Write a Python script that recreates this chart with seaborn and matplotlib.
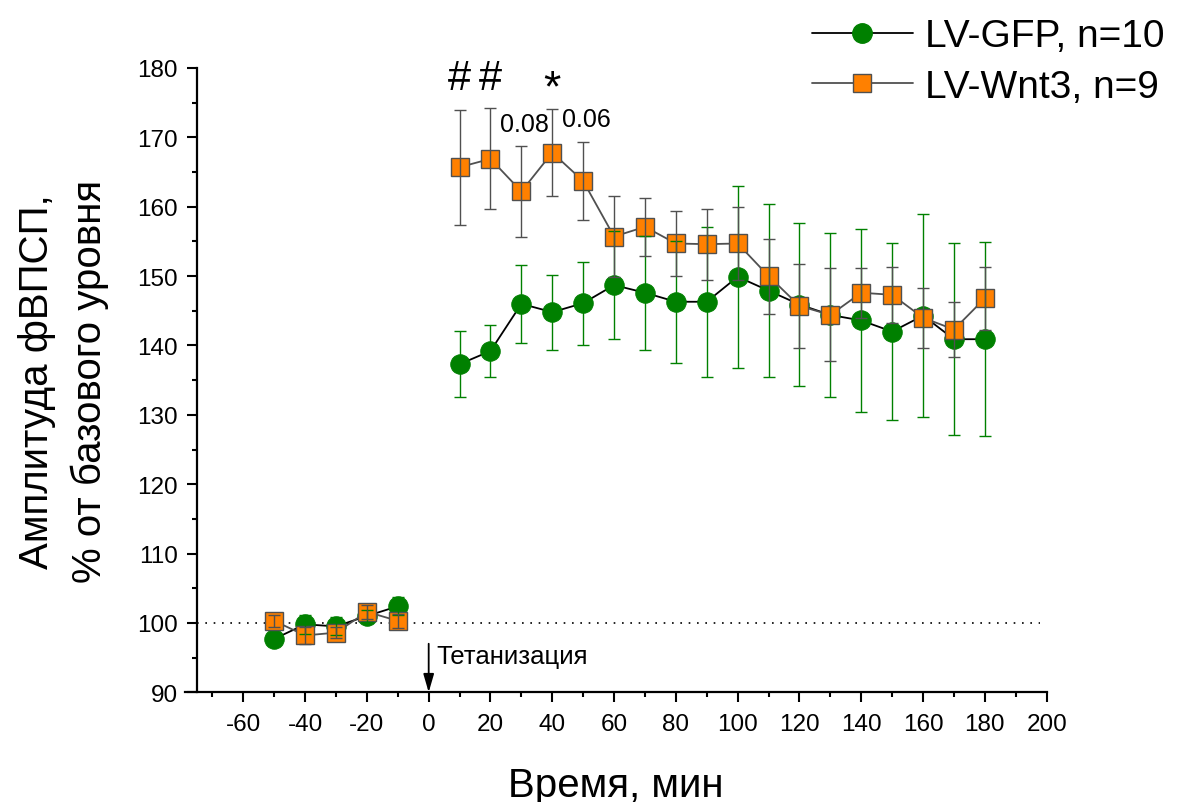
import numpy as np
import pandas as pd
import matplotlib
matplotlib.use("Agg")
import matplotlib.pyplot as plt
import seaborn as sns
from matplotlib.lines import Line2D
from matplotlib.ticker import MultipleLocator

# ---- data ----
time_min = [-50, -40, -30, -20, -10, 10, 20, 30, 40, 50, 60, 70, 80, 90, 100,
            110, 120, 130, 140, 150, 160, 170, 180]
gfp_mean = [97.7, 99.8, 99.5, 101.0, 102.4, 137.3, 139.2, 146.0, 144.8, 146.1,
            148.7, 147.6, 146.3, 146.3, 149.9, 147.9, 145.9, 144.4, 143.6,
            142.0, 144.3, 140.9, 140.9]
gfp_err = [0.7, 1.4, 1.3, 0.8, 1.3, 4.8, 3.7, 5.6, 5.4, 6.0, 7.8, 8.2, 8.8,
           10.8, 13.1, 12.5, 11.8, 11.8, 13.2, 12.7, 14.6, 13.8, 14.0]
wnt_mean = [100.3, 98.2, 98.6, 101.6, 100.3, 165.7, 166.9, 162.2, 167.8, 163.7,
            155.7, 157.1, 154.7, 154.6, 154.7, 150.0, 145.7, 144.4, 147.6,
            147.3, 144.0, 142.3, 146.8]
wnt_err = [0.9, 1.2, 0.8, 1.0, 1.0, 8.3, 7.3, 6.6, 6.3, 5.6, 5.8, 4.2, 4.7,
           5.1, 5.2, 5.4, 6.0, 6.7, 3.6, 4.0, 4.3, 4.0, 4.5]
segment = ["base"] * 5 + ["post"] * 18

label_gfp = "LV-GFP, n=10"
label_wnt = "LV-Wnt3, n=9"
xlabel = "Время, мин"
ylabel = "Амплитуда фВПСП,\n% от базового уровня"
stim_label = "Тетанизация"
xticks = list(range(-60, 201, 20))
yticks = list(range(90, 181, 10))

df = pd.DataFrame({"t": time_min, "gfp": gfp_mean, "gfp_err": gfp_err,
                   "wnt": wnt_mean, "wnt_err": wnt_err, "seg": segment})

# ---- style ----
sns.set_style("ticks")
plt.rcParams["font.family"] = ["Liberation Sans", "DejaVu Sans"]
plt.rcParams["text.color"] = "black"
plt.rcParams["axes.labelcolor"] = "black"
plt.rcParams["xtick.color"] = "black"
plt.rcParams["ytick.color"] = "black"
plt.rcParams["axes.unicode_minus"] = False

GREEN = "#008000"
ORANGE = "#FF8000"
DGRAY = "#505050"

fig = plt.figure(figsize=(11.84, 8.03), dpi=100)
ax = fig.add_axes([0.1559, 0.1366, 0.7281, 0.7775])

# lines + markers
sns.lineplot(data=df, x="t", y="gfp", units="seg", estimator=None, ax=ax,
             color="black", lw=1.3, marker="o", markersize=14,
             markerfacecolor=GREEN, markeredgecolor=GREEN, zorder=3)
sns.lineplot(data=df, x="t", y="wnt", units="seg", estimator=None, ax=ax,
             color=DGRAY, lw=1.3, marker="s", markersize=12.5,
             markerfacecolor=ORANGE, markeredgecolor=DGRAY,
             markeredgewidth=1.0, zorder=4)

# error bars
ax.errorbar(df["t"], df["gfp"], yerr=df["gfp_err"], fmt="none",
            ecolor=GREEN, elinewidth=1.0, capsize=4.3, capthick=1.0, zorder=5)
ax.errorbar(df["t"], df["wnt"], yerr=df["wnt_err"], fmt="none",
            ecolor=DGRAY, elinewidth=1.0, capsize=4.3, capthick=1.0, zorder=5)

# baseline
ax.hlines(100, -75, 198, colors="black", linestyles=(0, (1, 4)), lw=1.2,
          zorder=1)

# stimulation arrow
ax.annotate("", xy=(0, 90), xytext=(0, 97.0),
            arrowprops=dict(arrowstyle="-|>,head_length=1.1,head_width=0.32",
                            color="black", lw=1.3, shrinkA=0, shrinkB=0))
ax.text(2.5, 95.3, stim_label, fontsize=18.5, ha="left", va="center")

# significance marks
ax.text(10, 178.6, "#", fontsize=30, ha="center", va="center")
ax.text(20, 178.6, "#", fontsize=30, ha="center", va="center")
ax.text(40, 177.0, "*", fontsize=32, ha="center", va="center")
ax.text(31, 171.9, "0.08", fontsize=18, ha="center", va="center")
ax.text(51, 172.7, "0.06", fontsize=18, ha="center", va="center")

# axes
ax.set_xlim(-79, 200)
ax.set_ylim(90, 180)
ax.spines["left"].set_position(("data", -75))
ax.spines["left"].set_bounds(90, 180)
sns.despine(ax=ax)
for s in ("left", "bottom"):
    ax.spines[s].set_linewidth(1.6)
    ax.spines[s].set_color("black")
ax.set_xticks(xticks)
ax.set_yticks(yticks)
ax.xaxis.set_minor_locator(MultipleLocator(10))
ax.yaxis.set_minor_locator(MultipleLocator(5))
ax.tick_params(which="major", direction="out", length=7, width=1.5,
               labelsize=17.5, color="black", labelcolor="black")
ax.tick_params(which="minor", direction="out", length=3.8, width=1.5,
               color="black")
ax.tick_params(axis="x", pad=8)
ax.tick_params(axis="y", pad=7)
ax.set_xlabel(xlabel, fontsize=29, labelpad=22)
ax.set_ylabel(ylabel, fontsize=29, labelpad=20, linespacing=1.48)
ax.grid(False)

# legend
handles = [
    Line2D([0], [0], color="black", lw=1.3, marker="o", markersize=14,
           markerfacecolor=GREEN, markeredgecolor=GREEN),
    Line2D([0], [0], color=DGRAY, lw=1.3, marker="s", markersize=12.5,
           markerfacecolor=ORANGE, markeredgecolor=DGRAY, markeredgewidth=1.0),
]
fig.legend(handles, [label_gfp, label_wnt], loc="upper right",
           bbox_to_anchor=(1.003, 1.005), frameon=False, fontsize=28,
           handlelength=2.6, handletextpad=0.3, labelspacing=0.38,
           borderaxespad=0.2)

fig.savefig("out.png", dpi=100)
